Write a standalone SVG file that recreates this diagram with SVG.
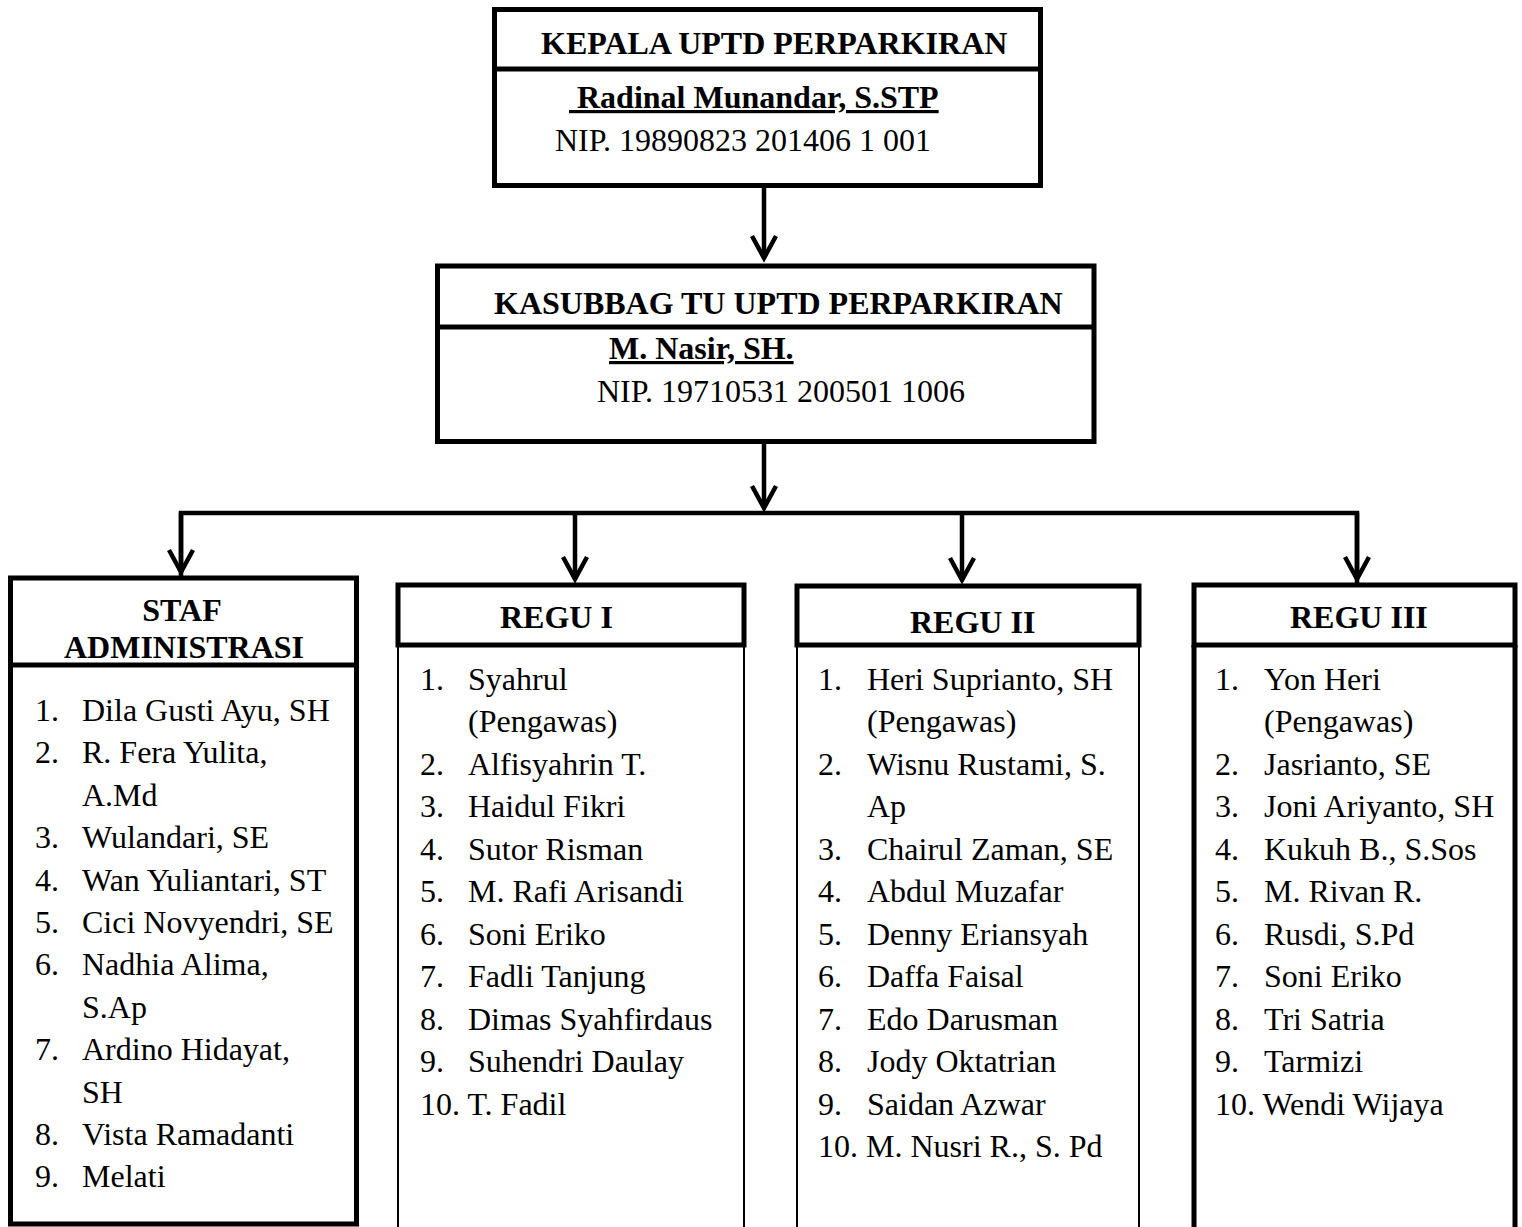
<svg xmlns="http://www.w3.org/2000/svg" width="1522" height="1227" viewBox="0 0 1522 1227">
<style>
.t{font-family:"Liberation Serif","Times New Roman",serif;font-size:32px;fill:#000}
.b{font-weight:bold}
.box{fill:none;stroke:#000;stroke-width:5}
.thin{fill:none;stroke:#000;stroke-width:2}
.con{fill:none;stroke:#000;stroke-width:4.5}
</style>
<defs>
<marker id="arr" markerUnits="userSpaceOnUse" markerWidth="40" markerHeight="40" viewBox="-30 -20 40 40" refX="0" refY="0" orient="auto" overflow="visible">
<path d="M-22,-12 L0,0 L-22,12" fill="none" stroke="#000" stroke-width="4.5"/>
</marker>
</defs>
<rect width="1522" height="1227" fill="#fff"/>

<g id="connectors">
<line class="con" x1="764" y1="188" x2="764" y2="258" marker-end="url(#arr)"/>
<line class="con" x1="764" y1="444" x2="764" y2="508" marker-end="url(#arr)"/>
<polyline class="con" points="181,578 181,513 1357,513 1357,585"/>
<line class="con" x1="181" y1="513" x2="181" y2="572" marker-end="url(#arr)"/>
<line class="con" x1="575" y1="513" x2="575" y2="579" marker-end="url(#arr)"/>
<line class="con" x1="962" y1="513" x2="962" y2="580" marker-end="url(#arr)"/>
<line class="con" x1="1357" y1="513" x2="1357" y2="579" marker-end="url(#arr)"/>
</g>

<g id="kepala">
<rect class="box" x="494.5" y="9.5" width="546" height="176"/>
<line class="box" x1="494.5" y1="69" x2="1040.5" y2="69"/>
<text class="t b" x="541" y="54">KEPALA UPTD PERPARKIRAN</text>
<text class="t b" x="569" y="108" xml:space="preserve" text-decoration="underline"> Radinal Munandar, S.STP</text>
<text class="t" x="555" y="151">NIP. 19890823 201406 1 001</text>
</g>

<g id="kasubbag">
<rect class="box" x="437.5" y="266" width="656.5" height="175.5"/>
<line class="box" x1="437.5" y1="327" x2="1094" y2="327"/>
<text class="t b" x="494" y="314">KASUBBAG TU UPTD PERPARKIRAN</text>
<text class="t b" x="609" y="359" text-decoration="underline">M. Nasir, SH.</text>
<text class="t" x="597" y="402">NIP. 19710531 200501 1006</text>
</g>

<g id="staf">
<rect class="box" x="10.5" y="578" width="346" height="646"/>
<line class="box" x1="10.5" y1="665" x2="356.5" y2="665"/>
<text class="t b" x="182" y="621" text-anchor="middle">STAF</text>
<text class="t b" x="184" y="658" text-anchor="middle">ADMINISTRASI</text>
<g class="t">
<text x="35" y="721">1.</text><text x="82" y="721">Dila Gusti Ayu, SH</text>
<text x="35" y="763">2.</text><text x="82" y="763">R. Fera Yulita,</text>
<text x="82" y="806">A.Md</text>
<text x="35" y="848">3.</text><text x="82" y="848">Wulandari, SE</text>
<text x="35" y="891">4.</text><text x="82" y="891">Wan Yuliantari, ST</text>
<text x="35" y="933">5.</text><text x="82" y="933">Cici Novyendri, SE</text>
<text x="35" y="975">6.</text><text x="82" y="975">Nadhia Alima,</text>
<text x="82" y="1018">S.Ap</text>
<text x="35" y="1060">7.</text><text x="82" y="1060">Ardino Hidayat,</text>
<text x="82" y="1103">SH</text>
<text x="35" y="1145">8.</text><text x="82" y="1145">Vista Ramadanti</text>
<text x="35" y="1187">9.</text><text x="82" y="1187">Melati</text>
</g>
</g>

<g id="regu1">
<rect class="box" x="398" y="585" width="346" height="60"/>
<line class="thin" x1="398" y1="645" x2="398" y2="1227"/>
<line class="thin" x1="744" y1="645" x2="744" y2="1227"/>
<text class="t b" x="500" y="628">REGU I</text>
<g class="t">
<text x="420" y="690">1.</text><text x="468" y="690">Syahrul</text>
<text x="468" y="732">(Pengawas)</text>
<text x="420" y="775">2.</text><text x="468" y="775">Alfisyahrin T.</text>
<text x="420" y="817">3.</text><text x="468" y="817">Haidul Fikri</text>
<text x="420" y="860">4.</text><text x="468" y="860">Sutor Risman</text>
<text x="420" y="902">5.</text><text x="468" y="902">M. Rafi Arisandi</text>
<text x="420" y="945">6.</text><text x="468" y="945">Soni Eriko</text>
<text x="420" y="987">7.</text><text x="468" y="987">Fadli Tanjung</text>
<text x="420" y="1030">8.</text><text x="468" y="1030">Dimas Syahfirdaus</text>
<text x="420" y="1072">9.</text><text x="468" y="1072">Suhendri Daulay</text>
<text x="420" y="1115">10. T. Fadil</text>
</g>
</g>

<g id="regu2">
<rect class="box" x="797" y="586" width="342" height="59"/>
<line class="thin" x1="797" y1="645" x2="797" y2="1227"/>
<line class="thin" x1="1139" y1="645" x2="1139" y2="1227"/>
<text class="t b" x="910" y="633">REGU II</text>
<g class="t">
<text x="818" y="690">1.</text><text x="867" y="690">Heri Suprianto, SH</text>
<text x="867" y="732">(Pengawas)</text>
<text x="818" y="775">2.</text><text x="867" y="775">Wisnu Rustami, S.</text>
<text x="867" y="817">Ap</text>
<text x="818" y="860">3.</text><text x="867" y="860">Chairul Zaman, SE</text>
<text x="818" y="902">4.</text><text x="867" y="902">Abdul Muzafar</text>
<text x="818" y="945">5.</text><text x="867" y="945">Denny Eriansyah</text>
<text x="818" y="987">6.</text><text x="867" y="987">Daffa Faisal</text>
<text x="818" y="1030">7.</text><text x="867" y="1030">Edo Darusman</text>
<text x="818" y="1072">8.</text><text x="867" y="1072">Jody Oktatrian</text>
<text x="818" y="1115">9.</text><text x="867" y="1115">Saidan Azwar</text>
<text x="818" y="1157">10. M. Nusri R., S. Pd</text>
</g>
</g>

<g id="regu3">
<rect class="box" x="1194" y="585" width="321" height="60"/>
<line class="box" x1="1194" y1="645" x2="1194" y2="1227"/>
<line class="box" x1="1515" y1="645" x2="1515" y2="1227"/>
<text class="t b" x="1290" y="628">REGU III</text>
<g class="t">
<text x="1215" y="690">1.</text><text x="1264" y="690">Yon Heri</text>
<text x="1264" y="732">(Pengawas)</text>
<text x="1215" y="775">2.</text><text x="1264" y="775">Jasrianto, SE</text>
<text x="1215" y="817">3.</text><text x="1264" y="817">Joni Ariyanto, SH</text>
<text x="1215" y="860">4.</text><text x="1264" y="860">Kukuh B., S.Sos</text>
<text x="1215" y="902">5.</text><text x="1264" y="902">M. Rivan R.</text>
<text x="1215" y="945">6.</text><text x="1264" y="945">Rusdi, S.Pd</text>
<text x="1215" y="987">7.</text><text x="1264" y="987">Soni Eriko</text>
<text x="1215" y="1030">8.</text><text x="1264" y="1030">Tri Satria</text>
<text x="1215" y="1072">9.</text><text x="1264" y="1072">Tarmizi</text>
<text x="1215" y="1115">10. Wendi Wijaya</text>
</g>
</g>
</svg>
